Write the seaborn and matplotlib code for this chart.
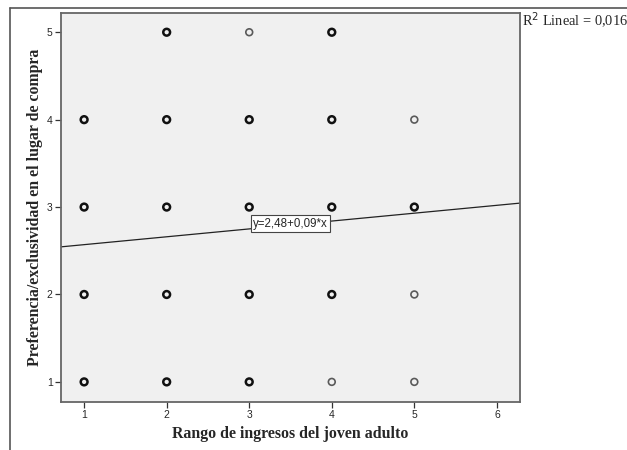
import numpy as np
import pandas as pd
import matplotlib
matplotlib.use("Agg")
import matplotlib.pyplot as plt
import seaborn as sns
from matplotlib.lines import Line2D

# Observed (x, y) combinations; count > 1 means overlapping cases (drawn bolder)
ingresos = [2, 3, 4,
            1, 2, 3, 4, 5,
            1, 2, 3, 4, 5,
            1, 2, 3, 4, 5,
            1, 2, 3, 4, 5]
preferencia = [5, 5, 5,
               4, 4, 4, 4, 4,
               3, 3, 3, 3, 3,
               2, 2, 2, 2, 2,
               1, 1, 1, 1, 1]
casos = [2, 1, 2,
         3, 3, 3, 3, 1,
         3, 3, 3, 3, 3,
         3, 3, 3, 3, 1,
         3, 2, 2, 1, 1]

intercepto = 2.48
pendiente = 0.09
r2 = 0.016

df = pd.DataFrame({"x": ingresos, "y": preferencia, "n": casos})

sns.set_style("white")
plt.rcParams["font.family"] = ["Liberation Sans", "DejaVu Sans"]

fig = plt.figure(figsize=(6.27, 4.5), dpi=100)
ax = fig.add_axes([61 / 627, 48 / 450, 459 / 627, 389 / 450])
ax.set_facecolor("#f0f0f0")

solo = df[df["n"] == 1]
varios = df[df["n"] > 1]
sns.scatterplot(data=solo, x="x", y="y", ax=ax, marker="o", s=24,
                facecolors="none", edgecolor="#5a5a5a", linewidth=1.2, legend=False)
sns.scatterplot(data=varios, x="x", y="y", ax=ax, marker="o", s=24,
                facecolors="none", edgecolor="#111111", linewidth=1.8, legend=False)

xmin, xmax = 0.72, 6.28
xs = np.array([xmin, xmax])
sns.lineplot(x=xs, y=intercepto + pendiente * xs, ax=ax, color="#222222", linewidth=0.9)

ax.text(3.50, 2.81, "y=2,48+0,09*x", ha="center", va="center", fontsize=8.3,
        bbox=dict(boxstyle="square,pad=0.2", facecolor="white", edgecolor="#444444", linewidth=0.8))

ax.set_xlim(xmin, xmax)
ax.set_ylim(0.77, 5.22)
ax.set_xticks([1, 2, 3, 4, 5, 6])
ax.set_yticks([1, 2, 3, 4, 5])
ax.tick_params(axis="both", direction="out", length=4, width=0.9, color="#333333",
               labelsize=7.5, pad=2, bottom=True, left=True)

for s in ax.spines.values():
    s.set_color("#666666")
    s.set_linewidth(1.3)

serif = ["Liberation Serif", "DejaVu Serif"]
ax.set_xlabel("Rango de ingresos del joven adulto", family=serif, fontweight="bold",
              fontsize=11.4, labelpad=4)
ax.set_ylabel("Preferencia/exclusividad en el lugar de compra", family=serif,
              fontweight="bold", fontsize=11.4, labelpad=3)

fig.text(522 / 627, 1 - 21 / 450, "R$^2$ Lineal = 0,016", family=serif, fontsize=10.4,
         ha="left", va="center")

fig.add_artist(Line2D([10 / 627, 1.0], [1 - 8 / 450, 1 - 8 / 450], color="#555555", linewidth=1.2))
fig.add_artist(Line2D([10 / 627, 10 / 627], [0, 1 - 8 / 450], color="#555555", linewidth=1.2))

fig.savefig("out.png", dpi=100)
